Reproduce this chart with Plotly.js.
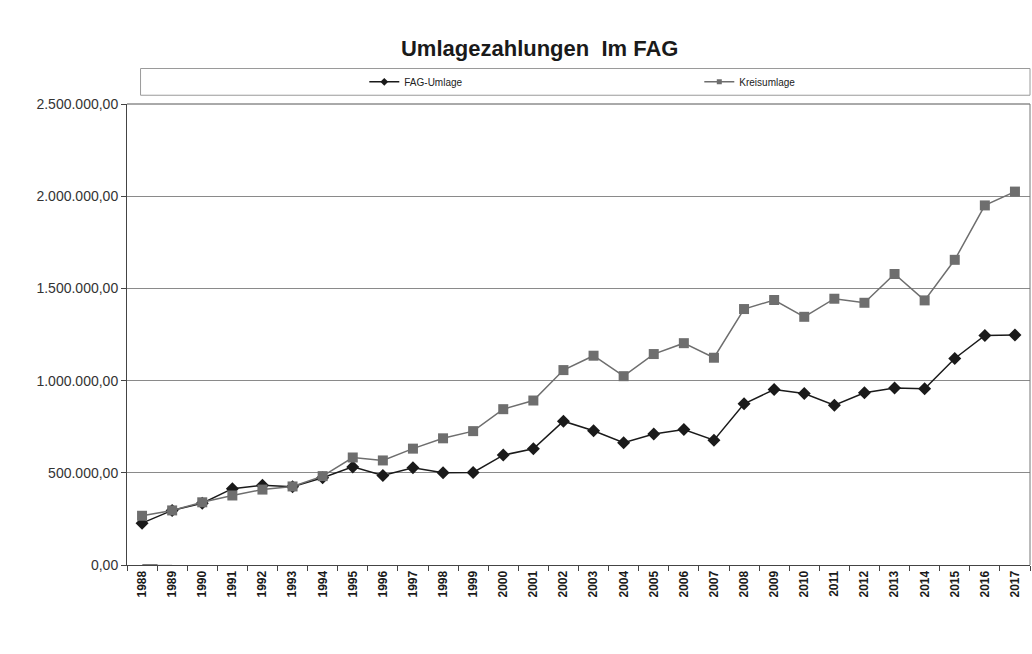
<!DOCTYPE html>
<html>
<head>
<meta charset="utf-8">
<script src="https://cdn.plot.ly/plotly-3.0.1.min.js"></script>
<style>
html,body{margin:0;padding:0;background:#fff;}
#chart{width:1032px;height:654px;}
</style>
</head>
<body>
<div id="chart"></div>
<script>
const years = ["1988","1989","1990","1991","1992","1993","1994","1995","1996","1997","1998","1999","2000","2001","2002","2003","2004","2005","2006","2007","2008","2009","2010","2011","2012","2013","2014","2015","2016","2017"];
const fagUmlage = [227000,296000,335000,414000,433000,424000,473000,532000,485000,527000,500000,502000,596000,630000,780000,728000,663000,710000,735000,677000,874000,952000,930000,866000,934000,960000,956000,1120000,1245000,1247000];
const kreisumlage = [267000,296000,340000,377000,409000,426000,482000,583000,567000,631000,687000,726000,845000,892000,1057000,1135000,1024000,1144000,1203000,1124000,1388000,1437000,1346000,1444000,1422000,1578000,1435000,1655000,1950000,2025000];
const seriesNames = ["FAG-Umlage","Kreisumlage"];
const yTicks = [0,500000,1000000,1500000,2000000,2500000];

const colFag = '#1a1a1a', colKreis = '#6e6e6e';
const traces = [
  {
    x: years, y: fagUmlage, name: seriesNames[0], type: 'scatter', mode: 'lines+markers',
    showlegend: false,
    line: {color: colFag, width: 1.5},
    marker: {symbol: 'diamond', size: 10, color: colFag}
  },
  {
    x: years, y: kreisumlage, name: seriesNames[1], type: 'scatter', mode: 'lines+markers',
    showlegend: false,
    line: {color: colKreis, width: 1.5},
    marker: {symbol: 'square', size: 10, color: colKreis}
  },
  {
    x: [years[0]], y: [null], name: seriesNames[0], type: 'scatter', mode: 'lines+markers',
    showlegend: true, hoverinfo: 'skip',
    line: {color: colFag, width: 1.5}, marker: {symbol: 'diamond', size: 6, color: colFag}
  },
  {
    x: [years[0]], y: [null], name: seriesNames[1], type: 'scatter', mode: 'lines+markers',
    showlegend: true, hoverinfo: 'skip',
    line: {color: colKreis, width: 1.5}, marker: {symbol: 'square', size: 5, color: colKreis}
  }
];

const layout = {
  width: 1032, height: 654,
  margin: {l: 127, r: 2, t: 104, b: 89, autoexpand: false},
  paper_bgcolor: '#ffffff', plot_bgcolor: '#ffffff',
  separators: ',.',
  font: {family: 'Liberation Sans, Arial, sans-serif', color: '#222'},
  title: {
    text: '<b>Umlagezahlungen  Im FAG</b>',
    font: {family: 'Liberation Sans, Arial, sans-serif', size: 22, color: '#1a1a1a'},
    x: 0.523, xref: 'container', xanchor: 'center',
    y: 0.926, yref: 'container', yanchor: 'middle'
  },
  showlegend: true,
  legend: {
    orientation: 'h', xref: 'container', x: 0.353, xanchor: 'left',
    yref: 'paper', y: 1.048, yanchor: 'middle',
    entrywidth: 290, entrywidthmode: 'pixels',
    font: {size: 10, color: '#222'}, bgcolor: 'rgba(0,0,0,0)', borderwidth: 0
  },
  xaxis: {
    type: 'category', range: [-0.5, 29.5],
    tickangle: -90, tickfont: {size: 12, color: '#1a1a1a', family: 'Liberation Sans, Arial, sans-serif', weight: 'bold'},
    ticks: 'outside', ticklen: 5, tickcolor: '#444', tickson: 'boundaries',
    showline: true, linecolor: '#444', linewidth: 1,
    showgrid: false, zeroline: false, mirror: false
  },
  yaxis: {
    range: [0, 2500000], tickvals: yTicks, tickformat: ',.2f',
    tickfont: {size: 14, color: '#333'},
    ticks: 'outside', ticklen: 5, tickcolor: '#444',
    showline: true, linecolor: '#444', linewidth: 1,
    showgrid: true, gridcolor: '#8a8a8a', gridwidth: 1, zeroline: false
  },
  shapes: [
    {type: 'rect', xref: 'paper', yref: 'paper', x0: 0.015, x1: 1.0, y0: 1.019, y1: 1.077,
     line: {color: '#9a9a9a', width: 1}, fillcolor: 'rgba(0,0,0,0)'},
    {type: 'line', xref: 'paper', yref: 'paper', x0: 0, x1: 1, y0: 1, y1: 1,
     line: {color: '#555', width: 1}},
    {type: 'line', xref: 'paper', yref: 'paper', x0: 1, x1: 1, y0: 0, y1: 1,
     line: {color: '#777', width: 1}},
    {type: 'line', xref: 'container', yref: 'container', x0: 0.01, x1: 1, y0: 0.982, y1: 0.982,
     line: {color: '#d0d0d0', width: 1}},
    {type: 'line', xref: 'container', yref: 'container', x0: 0.01, x1: 0.515, y0: 0.046, y1: 0.046,
     line: {color: '#555', width: 1.5}}
  ]
};

Plotly.newPlot('chart', traces, layout, {displayModeBar: false, staticPlot: true});
</script>
</body>
</html>
